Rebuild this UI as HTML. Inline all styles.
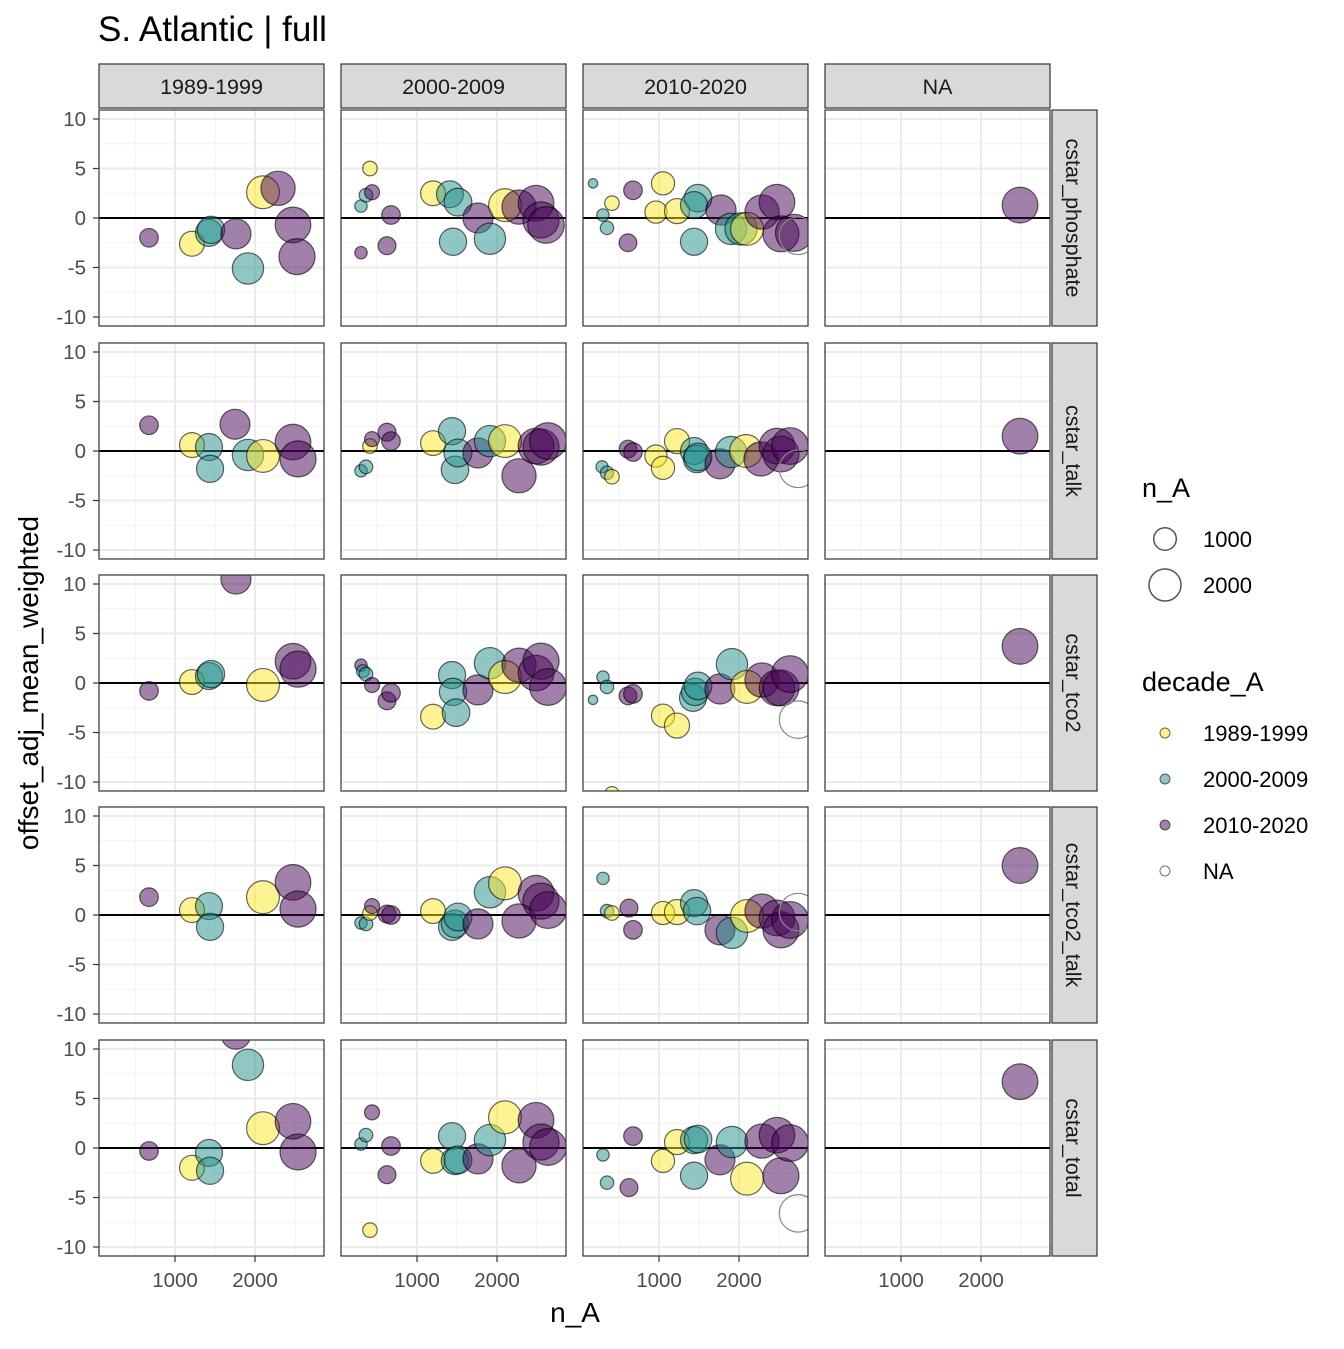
<!DOCTYPE html>
<html><head><meta charset="utf-8"><style>
body{margin:0;background:#fff}
svg text{font-family:"Liberation Sans",Arial,sans-serif}
</style></head><body>
<svg id="chart" xmlns="http://www.w3.org/2000/svg" width="1344" height="1344" viewBox="0 0 1344 1344">
<text x="98" y="41" font-size="35" fill="#000">S. Atlantic | full</text>
<text x="575" y="1322" font-size="28" text-anchor="middle" fill="#000">n_A</text>
<text transform="translate(38,683) rotate(-90)" font-size="28" text-anchor="middle" fill="#000">offset_adj_mean_weighted</text>
<g id="legend">
<text x="1142" y="497" font-size="27">n_A</text>
<circle cx="1165" cy="539" r="11.3" fill="none" stroke="#555" stroke-width="1.5"/>
<text x="1203" y="547" font-size="22">1000</text>
<circle cx="1165" cy="585" r="16" fill="none" stroke="#555" stroke-width="1.5"/>
<text x="1203" y="593" font-size="22">2000</text>
<text x="1142" y="691" font-size="27">decade_A</text>
<circle cx="1165" cy="733" r="5" fill="rgba(253,231,37,0.5)" stroke="#000" stroke-opacity="0.6"/>
<text x="1203" y="741" font-size="22">1989-1999</text>
<circle cx="1165" cy="779" r="5" fill="rgba(33,144,140,0.5)" stroke="#000" stroke-opacity="0.6"/>
<text x="1203" y="787" font-size="22">2000-2009</text>
<circle cx="1165" cy="825" r="5" fill="rgba(68,1,84,0.5)" stroke="#000" stroke-opacity="0.6"/>
<text x="1203" y="833" font-size="22">2010-2020</text>
<circle cx="1165" cy="871" r="5" fill="none" stroke="#777"/>
<text x="1203" y="879" font-size="22">NA</text>
</g>
</svg>
<script>
const colLabels=["1989-1999","2000-2009","2010-2020","NA"];
const rowLabels=["cstar_phosphate","cstar_talk","cstar_tco2","cstar_tco2_talk","cstar_total"];
const xTicks=[1000,2000];
const yTicks=[-10,-5,0,5,10];
// panel data: nA, value, decade (0,1,2 = decades, 3 = NA)
const nA=[
[[675,1212,1425,1450,1762,1912,2100,2288,2475,2525],[300,300,362,412,438,625,675,1200,1412,1450,1512,1762,1912,2100,2275,2488,2550,2612],[175,300,350,412,612,675,1050,962,1225,1438,1488,1438,1775,1900,2025,2100,2288,2475,2525,2688,2738],[2488]],
[[675,1212,1425,1438,1750,1912,2100,2475,2538],[300,362,412,438,625,675,1200,1438,1475,1512,1762,1912,2100,2275,2488,2550,2638],[288,350,412,612,675,962,1050,1225,1438,1475,1488,1762,1900,2088,2275,2475,2525,2638,2738],[2488]],
[[675,1212,1425,1450,1762,2100,2475,2538],[300,325,362,438,625,675,1200,1438,1450,1488,1762,1912,2100,2275,2488,2550,2638],[175,300,350,412,612,675,1050,1225,1425,1450,1488,1762,1912,2100,2288,2475,2525,2638,2738],[2488]],
[[675,1212,1425,1438,2100,2475,2538],[300,362,412,438,625,675,1200,1438,1475,1512,1762,1912,2100,2275,2488,2550,2638],[300,350,412,625,675,1050,1225,1438,1475,1762,1912,2100,2288,2475,2525,2638,2738],[2488]],
[[675,1212,1425,1438,1762,1912,2100,2475,2538],[300,362,412,438,625,675,1200,1438,1475,1512,1762,1912,2100,2275,2488,2550,2638],[300,350,625,675,1050,1225,1438,1438,1488,1762,1912,2100,2288,2475,2525,2638,2738],[2488]]
];
const vals=[
[[-2,-2.6,-1.5,-1.2,-1.6,-5.1,2.6,3,-0.7,-3.9],[-3.5,1.2,2.3,5,2.6,-2.8,0.3,2.5,2.4,-2.4,1.6,0,-2.1,1.3,1.1,1.5,-0.2,-0.7],[3.5,0.3,-1,1.5,-2.5,2.8,3.5,0.6,0.7,-2.4,2,1.3,0.8,-1.1,-1.1,-1.1,0.6,1.6,-1.6,-1.5,-1.8],[1.3]],
[[2.6,0.6,0.4,-1.8,2.7,-0.4,-0.5,0.9,-0.8],[-2,-1.6,0.5,1.2,1.9,1,0.8,2,-1.9,-0.2,-0.2,1,1,-2.5,0.5,0.4,1],[-1.6,-2.2,-2.6,0.2,-0.1,-0.5,-1.7,1,0,-0.8,-0.6,-1.3,-0.1,0,-0.8,0.5,-0.3,0.5,-1.8],[1.5]],
[[-0.8,0.1,0.7,0.9,10.5,-0.2,2.2,1.4],[1.8,1.2,0.9,-0.2,-1.8,-1,-3.4,0.8,-0.9,-3,-0.7,2,0.6,1.8,1,2.2,-0.4],[-1.7,0.6,-0.4,-11.2,-1.3,-1.1,-3.3,-4.3,-1.5,-0.9,-0.3,-0.6,1.9,-0.4,0.3,-0.5,-0.5,0.9,-3.7],[3.7]],
[[1.8,0.5,0.9,-1.2,1.8,3.3,0.6],[-0.8,-0.9,0.2,0.9,0.1,0,0.4,-1.2,-0.9,-0.2,-0.9,2.3,3.2,-0.6,2.2,1.4,0.5],[3.7,0.4,0.2,0.7,-1.5,0.2,0.3,1.2,0.4,-1.5,-1.8,-0.1,0.4,-0.3,-1.5,-0.5,0.3],[5]],
[[-0.3,-2,-0.5,-2.3,11.5,8.4,2,2.7,-0.4],[0.4,1.3,-8.3,3.6,-2.7,0.2,-1.3,1.2,-1.3,-1.2,-1.1,0.8,3.1,-1.8,2.8,0.6,0.1],[-0.7,-3.5,-4,1.2,-1.3,0.6,-2.8,0.8,0.9,-1.2,0.6,-3.1,0.7,1.3,-2.8,0.5,-6.6],[6.7]]
];
const dec=[
[[2,0,1,1,2,1,0,2,2,2],[2,1,1,0,2,2,2,0,1,1,1,2,1,0,2,2,2,2],[1,1,1,0,2,2,0,0,0,1,1,1,2,1,1,0,2,2,2,2,3],[2]],
[[2,0,1,1,2,1,0,2,2],[1,1,0,2,2,2,0,1,1,1,2,1,0,2,2,2,2],[1,1,0,2,2,0,0,0,1,1,1,2,1,0,2,2,2,2,3],[2]],
[[2,0,1,1,2,0,2,2],[2,1,1,2,2,2,0,1,1,1,2,1,0,2,2,2,2],[1,1,1,0,2,2,0,0,1,1,1,2,1,0,2,2,2,2,3],[2]],
[[2,0,1,1,0,2,2],[1,1,0,2,2,2,0,1,1,1,2,1,0,2,2,2,2],[1,1,0,2,2,0,0,1,1,2,1,0,2,2,2,2,3],[2]],
[[2,0,1,1,2,1,0,2,2],[1,1,0,2,2,2,0,1,1,1,2,1,0,2,2,2,2],[1,1,2,2,0,0,1,1,1,2,1,0,2,2,2,2,3],[2]]
];
const fills=["rgba(253,231,37,0.5)","rgba(33,144,140,0.5)","rgba(68,1,84,0.5)","none"];
const NS="http://www.w3.org/2000/svg";
const svg=document.getElementById('chart');
const colX0=[99,341,583,825], PW=225;
const rowY0=[110,343,575,807,1040], PH=216;
function xs(c,n){return colX0[c]+76+(n-1000)*0.08;}
function ys(r,v){return rowY0[r]+108-v*9.9;}
function rad(n){return 0.358*Math.sqrt(n);}
function mk(tag,attrs,parent){const e=document.createElementNS(NS,tag);for(const k in attrs)e.setAttribute(k,attrs[k]);(parent||svg).appendChild(e);return e;}
for(let c=0;c<4;c++){
  const s=mk('rect',{x:colX0[c],y:64,width:PW,height:44,fill:'#d9d9d9',stroke:'#333','stroke-width':1.2});
  
  
  const t=mk('text',{x:colX0[c]+PW/2,y:94,'font-size':21.5,'text-anchor':'middle',fill:'#1a1a1a'});
  t.textContent=colLabels[c];
  
  
}
for(let r=0;r<5;r++){
  const s=mk('rect',{x:1052,y:rowY0[r],width:45,height:PH,fill:'#d9d9d9',stroke:'#333','stroke-width':1.2});
  
  
  const t=mk('text',{transform:`translate(1066,${rowY0[r]+PH/2}) rotate(90)`,'font-size':21.5,'text-anchor':'middle',fill:'#1a1a1a'});
  t.textContent=rowLabels[r];
  
  
  yTicks.forEach(v=>{
    const y=ys(r,v);
    const tl=mk('text',{x:86,y:y+7,'font-size':20.5,'text-anchor':'end',fill:'#4d4d4d'});
    tl.textContent=v;
    
    
    mk('line',{x1:93,x2:99,y1:y,y2:y,stroke:'#333','stroke-width':1.2});
  });
  for(let c=0;c<4;c++){
    const g=mk('g',{});
    
    
    mk('rect',{x:colX0[c],y:rowY0[r],width:PW,height:PH,fill:'#fff'},g);
    [-7.5,-2.5,2.5,7.5].forEach(v=>mk('line',{x1:colX0[c],x2:colX0[c]+PW,y1:ys(r,v),y2:ys(r,v),stroke:'#f2f2f2','stroke-width':1},g));
    [500,1500,2500].forEach(n=>mk('line',{x1:xs(c,n),x2:xs(c,n),y1:rowY0[r],y2:rowY0[r]+PH,stroke:'#f2f2f2','stroke-width':1},g));
    yTicks.forEach(v=>mk('line',{x1:colX0[c],x2:colX0[c]+PW,y1:ys(r,v),y2:ys(r,v),stroke:'#ebebeb','stroke-width':2},g));
    xTicks.forEach(n=>mk('line',{x1:xs(c,n),x2:xs(c,n),y1:rowY0[r],y2:rowY0[r]+PH,stroke:'#ebebeb','stroke-width':2},g));
    const zl=mk('line',{x1:colX0[c],x2:colX0[c]+PW,y1:ys(r,0),y2:ys(r,0),stroke:'#000','stroke-width':2},g);
    
    
    const clipId=`clip${r}${c}`;
    const cp=mk('clipPath',{id:clipId},g);
    mk('rect',{x:colX0[c],y:rowY0[r],width:PW,height:PH},cp);
    const pg=mk('g',{'clip-path':`url(#${clipId})`},g);
    const ns=nA[r][c], vs=vals[r][c], ds=dec[r][c];
    for(let i=0;i<ns.length;i++){
      const d=ds[i];
      const p=mk('circle',{cx:xs(c,ns[i]),cy:ys(r,vs[i]),r:rad(ns[i]),fill:fills[d],stroke:d===3?'#888':'#000','stroke-opacity':d===3?1:0.6,'stroke-width':1.2},pg);
      
      
    }
    mk('rect',{x:colX0[c],y:rowY0[r],width:PW,height:PH,fill:'none',stroke:'#333','stroke-width':1.2},g);
    if(r===4){
      xTicks.forEach(n=>{
        const x=xs(c,n);
        mk('line',{x1:x,x2:x,y1:1256,y2:1262,stroke:'#333','stroke-width':1.2});
        const tl=mk('text',{x:x,y:1287,'font-size':20.5,'text-anchor':'middle',fill:'#4d4d4d'});
        tl.textContent=n;
        
        
      });
    }
  }
}
svg.appendChild(document.getElementById('legend'));
</script>
</body></html>
